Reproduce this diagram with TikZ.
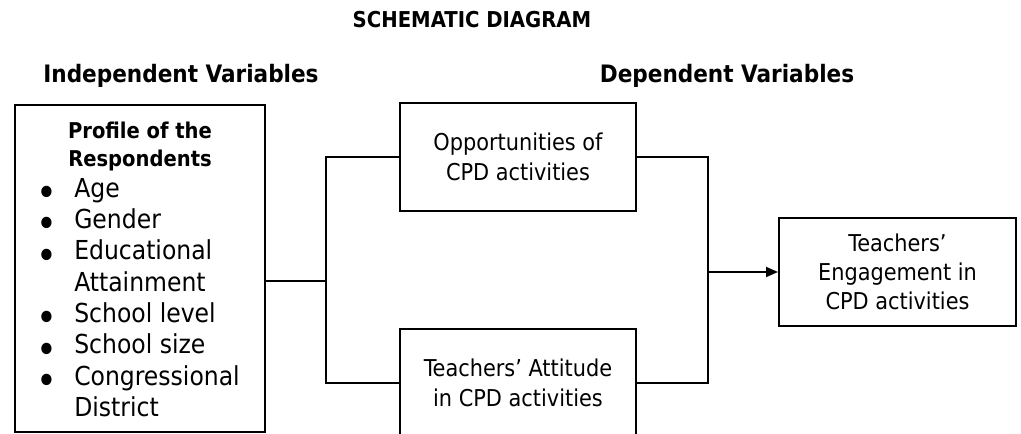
\documentclass[tikz,border=0pt]{standalone}
\usepackage{fontspec}
\setmainfont{DejaVu Sans Condensed}
\usepackage{tikz}
\usetikzlibrary{arrows.meta}

\tikzset{
  varbox/.style={draw, line width=1.5pt, align=center, inner sep=0pt, font=\fontsize{17.4}{22}\selectfont},
  heading/.style={font=\bfseries\fontsize{18}{22}\selectfont, inner sep=0pt},
  link/.style={line width=1.3pt},
}
\newcommand\itm{\makebox[28.5pt][l]{\smash{\raisebox{-6.8pt}{\scalebox{1.5}{\textbullet}}}}}

\begin{document}
\begin{tikzpicture}[x=0.75pt,y=0.75pt,yscale=-1,xscale=1]
\useasboundingbox (0,0) rectangle (1021,434);

% Text Node
\node [font=\bfseries\fontsize{16.4}{18}\selectfont, inner sep=0pt] (title) at (472,20) {SCHEMATIC DIAGRAM};
% Text Node
\node [heading] (indep) at (181,76) {Independent Variables};
% Text Node
\node [heading] (dep) at (727,76) {Dependent Variables};

%Shape: Rectangle
\node [varbox, minimum width=187.5pt, minimum height=245.25pt] (profile) at (140,268.5) {};
% Text Node
\node [font=\bfseries\fontsize{16.3}{21}\selectfont, align=center, inner sep=0pt] (profhead) at (140,147) {Profile of the\\Respondents};
% Text Node
\node [font=\fontsize{19.6}{23.5}\selectfont, align=left, inner sep=0pt, anchor=north west] (items) at (36,178) {\itm Age\\ \itm Gender\\ \itm Educational\\ \hspace*{28.5pt}Attainment\\ \itm School level\\ \itm School size\\ \itm Congressional\\ \hspace*{28.5pt}District};

%Shape: Rectangle
\node [varbox, minimum width=177pt, minimum height=81pt] (opp) at (518,157) {Opportunities of\\CPD activities};
%Shape: Rectangle
\node [varbox, minimum width=177pt, minimum height=81pt] (att) at (518,383) {Teachers’ Attitude\\in CPD activities};
%Shape: Rectangle
\node [varbox, minimum width=177.75pt, minimum height=81pt] (eng) at (897.5,272) {Teachers’\\Engagement in\\CPD activities};

\coordinate (jl) at (326,281);
\coordinate (jr) at (708,272);

%Straight Lines
\draw [link] (profile.east |- jl) -- (jl);
\draw [link] (opp.west) -| (jl) |- (att.west);
%Straight Lines
\draw [link] (opp.east) -| (jr) |- (att.east);
\draw [link, -{Triangle[length=9pt,width=7.5pt]}] (jr) -- (eng.west);

\end{tikzpicture}
\end{document}
